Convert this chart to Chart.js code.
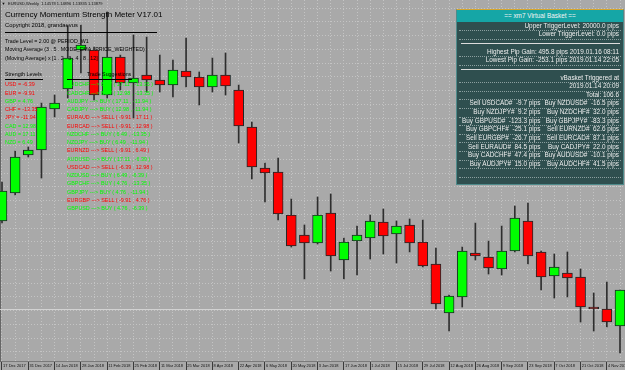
<!DOCTYPE html>
<html>
<head>
<meta charset="utf-8">
<script src="https://cdn.jsdelivr.net/npm/chart.js@4.4.1/dist/chart.umd.min.js"></script>
<style>
  html, body { margin: 0; padding: 0; background: #a9a9a9; }
  #wrap { position: relative; width: 625px; height: 370px; overflow: hidden; font-family: "Liberation Sans", Arial, sans-serif; }
  #wrap canvas { position: absolute; left: 0; top: 0; }
  .txt { position: absolute; white-space: pre; line-height: 1; }
  .hline { position: absolute; height: 0; border-top: 1px solid #000; }
  .dots { position: absolute; height: 0; border-top: 1px dotted rgba(215, 225, 225, 0.55); }
  #basket { position: absolute; left: 456px; top: 9px; width: 168px; height: 176px; box-sizing: border-box;
            background: #2f4f4f; border: 1px solid #4d8a8a; border-top-color: #d6a52c; }
  #basketHead { position: absolute; left: 457px; top: 10px; width: 166px; height: 12px; background: #15a6a6; }
</style>
</head>
<body>
<div id="wrap">
  <canvas id="grafico" width="625" height="370"></canvas>
</div>
<script>
// === Dados (EURUSD semanal) ===
const dates = ["17 Dec 2017", "24 Dec 2017", "31 Dec 2017", "7 Jan 2018", "14 Jan 2018", "21 Jan 2018",
  "28 Jan 2018", "4 Feb 2018", "11 Feb 2018", "18 Feb 2018", "25 Feb 2018", "4 Mar 2018",
  "11 Mar 2018", "18 Mar 2018", "25 Mar 2018", "1 Apr 2018", "8 Apr 2018", "15 Apr 2018",
  "22 Apr 2018", "29 Apr 2018", "6 May 2018", "13 May 2018", "20 May 2018", "27 May 2018",
  "3 Jun 2018", "10 Jun 2018", "17 Jun 2018", "24 Jun 2018", "1 Jul 2018", "8 Jul 2018",
  "15 Jul 2018", "22 Jul 2018", "29 Jul 2018", "5 Aug 2018", "12 Aug 2018", "19 Aug 2018",
  "26 Aug 2018", "2 Sep 2018", "9 Sep 2018", "16 Sep 2018", "23 Sep 2018", "30 Sep 2018",
  "7 Oct 2018", "14 Oct 2018", "21 Oct 2018", "28 Oct 2018", "4 Nov 2018", "11 Nov 2018"];

const openP = [1.1743, 1.1855, 1.2007, 1.2027, 1.2191, 1.2271, 1.2427, 1.2427, 1.2247, 1.2399, 1.2295, 1.2327,
  1.2307, 1.2287, 1.2343, 1.2319, 1.2279, 1.2327, 1.2267, 1.2119, 1.1955, 1.1939, 1.1767, 1.1687,
  1.1655, 1.1775, 1.1587, 1.1663, 1.1675, 1.1739, 1.1691, 1.1727, 1.1659, 1.1571, 1.1375, 1.1439,
  1.1615, 1.1599, 1.1551, 1.1623, 1.1743, 1.1619, 1.1523, 1.1535, 1.1519, 1.1399, 1.1391, 1.1323];
const highP = [1.1899, 1.2023, 1.2039, 1.2215, 1.2247, 1.2523, 1.2527, 1.2439, 1.2579, 1.2407, 1.2487, 1.2479,
  1.2407, 1.2387, 1.2475, 1.2339, 1.2395, 1.2415, 1.2287, 1.2139, 1.1975, 1.1995, 1.1831, 1.1727,
  1.1839, 1.1851, 1.1675, 1.1723, 1.1767, 1.1791, 1.1743, 1.1751, 1.1747, 1.1635, 1.1447, 1.1639,
  1.1735, 1.1663, 1.1723, 1.1803, 1.1815, 1.1623, 1.1611, 1.1619, 1.1551, 1.1455, 1.1499, 1.1467];
const lowP = [1.1735, 1.1847, 1.1999, 1.1915, 1.2159, 1.2235, 1.2335, 1.2227, 1.2235, 1.2267, 1.2155, 1.2259,
  1.2259, 1.2239, 1.2279, 1.2207, 1.2259, 1.2247, 1.2055, 1.1911, 1.1819, 1.1747, 1.1639, 1.1511,
  1.1651, 1.1543, 1.1511, 1.1527, 1.1591, 1.1611, 1.1575, 1.1619, 1.1559, 1.1391, 1.1303, 1.1399,
  1.1587, 1.1531, 1.1527, 1.1619, 1.1571, 1.1467, 1.1435, 1.1439, 1.1339, 1.1303, 1.1319, 1.1215];
const closeP = [1.1863, 1.1999, 1.2027, 1.2199, 1.2215, 1.2395, 1.2447, 1.2247, 1.2399, 1.2295, 1.2315, 1.2307,
  1.2287, 1.2347, 1.2319, 1.2279, 1.2327, 1.2283, 1.2123, 1.1959, 1.1935, 1.1771, 1.1643, 1.1655,
  1.1767, 1.1603, 1.1659, 1.1687, 1.1743, 1.1683, 1.1723, 1.1655, 1.1563, 1.1411, 1.1443, 1.1623,
  1.1603, 1.1555, 1.1623, 1.1755, 1.1603, 1.1519, 1.1559, 1.1515, 1.1399, 1.1391, 1.1339, 1.1467];
const bidPrice = 1.1391;

// === Textos do indicador ===
const strengthNames = ["USD", "EUR", "GBP", "CHF", "JPY", "CAD", "AUD", "NZD"];
const strengthValues = [-6.39, -9.91, 4.76, -13.35, -11.94, 12.98, 17.11, 6.49];
const suggestionPairs = ["AUDCHF", "CADCHF", "AUDJPY", "CADJPY", "EURAUD", "EURCAD", "NZDCHF", "NZDJPY",
  "EURNZD", "AUDUSD", "USDCAD", "NZDUSD", "GBPCHF", "GBPJPY", "EURGBP", "GBPUSD"];
const basketLeft = ["Sell USDCAD#  -9.7 pips", "Buy NZDJPY#  9.2 pips", "Buy GBPUSD#  -123.3 pips",
  "Buy GBPCHF#  -25.1 pips", "Sell EURGBP#  -26.7 pips", "Sell EURAUD#  84.5 pips",
  "Buy CADCHF#  47.4 pips", "Buy AUDJPY#  15.0 pips"];
const basketRight = ["Buy NZDUSD#  -16.5 pips", "Buy NZDCHF#  32.0 pips", "Buy GBPJPY#  -83.3 pips",
  "Sell EURNZD#  62.6 pips", "Sell EURCAD#  87.1 pips", "Buy CADJPY#  22.0 pips",
  "Buy AUDUSD#  -10.1 pips", "Buy AUDCHF#  41.5 pips"];

// === Grafico ===
const bodies = dates.map((d, i) => ({ x: i, y: [openP[i], closeP[i]] }));
const wicks = dates.map((d, i) => ({ x: i, y: [lowP[i], highP[i]] }));
const bodyColors = openP.map((o, i) => closeP[i] >= o ? "#00ff00" : "#ff0000");

const bidLine = {
  id: "bidLine",
  beforeDatasetsDraw(chart) {
    const { ctx, chartArea, scales } = chart;
    const y = Math.round(scales.y.getPixelForValue(bidPrice)) + 0.5;
    ctx.save();
    ctx.strokeStyle = "#d2d2d2";
    ctx.lineWidth = 1;
    ctx.beginPath();
    ctx.moveTo(chartArea.left, y);
    ctx.lineTo(chartArea.right, y);
    ctx.stroke();
    ctx.restore();
  }
};

const ctx = document.getElementById("grafico").getContext("2d");
new Chart(ctx, {
  type: "bar",
  data: {
    datasets: [
      { data: bodies, backgroundColor: bodyColors, borderColor: "#1c2828", borderWidth: 1, borderSkipped: false,
        barThickness: 10, maxBarThickness: 10, grouped: false, order: 0 },
      { data: wicks, backgroundColor: "#2e2e2e", borderWidth: 0,
        barThickness: 1, maxBarThickness: 1, grouped: false, order: 1 }
    ]
  },
  options: {
    responsive: false,
    animation: false,
    events: [],
    layout: { padding: 0 },
    plugins: { legend: { display: false }, tooltip: { enabled: false } },
    scales: {
      x: {
        type: "linear", min: -0.152, max: 47.38, offset: false,
        afterFit: scale => { scale.height = 9; },
        grid: { color: "#c4c4c4", offset: false, tickLength: 9,
          tickColor: c => (c.tick && c.tick.value % 2 === 0) ? "#3a3a3a" : "rgba(0,0,0,0)" },
        border: { display: true, color: "#7a7a7a", dash: [1, 2] },
        ticks: { stepSize: 1, includeBounds: false, autoSkip: false, maxRotation: 0, minRotation: 0,
          align: "start", padding: -8, color: "#111",
          font: { family: "Liberation Sans", size: 4, lineHeight: "7px" },
          callback: v => v % 2 === 0 ? " " + dates[v] : "" }
      },
      y: {
        min: 1.1183, max: 1.2627,
        grid: { color: "#c4c4c4", drawTicks: false },
        border: { display: true, color: "#666", dash: [1, 2] },
        ticks: { display: false, stepSize: 0.0055, includeBounds: false }
      }
    }
  },
  plugins: [bidLine]
});

// === Textos sobrepostos ===
const wrap = document.getElementById("wrap");

function addText(str, x, yc, size, color, align) {
  const el = document.createElement("div");
  el.className = "txt";
  el.textContent = str;
  el.style.fontSize = size + "px";
  el.style.color = color;
  el.style.top = (yc - size * 0.49) + "px";
  if (align === "right") {
    el.style.right = (625 - x) + "px";
  } else if (align === "center") {
    el.style.left = x + "px";
    el.style.transform = "translateX(-50%)";
  } else {
    el.style.left = x + "px";
  }
  wrap.appendChild(el);
}

function addLine(cls, x, y, w, color) {
  const el = document.createElement("div");
  el.className = cls;
  el.style.left = x + "px";
  el.style.top = y + "px";
  el.style.width = w + "px";
  if (color) el.style.borderTopColor = color;
  wrap.appendChild(el);
}

const fmt = v => String(v);
const green = "#00ff00";
const red = "#ff0000";

// cabecalho e titulo
addText("\u25BC", 1.5, 4, 4, "#111");
addText("EURUSD,Weekly  1.14578 1.14896 1.13835 1.13879", 8, 4, 4, "#111");
addText("Currency Momentum Strength Meter V17.01", 5, 14.5, 8, "#000");
addText("Copyright 2018, grandaevus", 5, 25.7, 5.8, "#000");
addLine("hline", 5, 32, 152);
addText("Trade Level = 2.00 @ PERIOD_W1", 5, 41.7, 5.3, "#000");
addText("Moving Average (3 . 5 . MODE_EMA . PRICE_WEIGHTED)", 5, 50, 5.3, "#000");
addText("(Moving Average) x [1 . 2 . 3 . 4 . 8 . 12]", 5, 58.3, 5.3, "#000");

// forca das moedas
addText("Strength Levels", 5, 74.5, 5.3, "#000");
addLine("hline", 5, 79, 38);
strengthNames.forEach((n, i) => {
  const v = strengthValues[i];
  addText(n + " = " + fmt(v), 5, 85 + i * 8.25, 5.4, v > 0 ? green : red);
});

// sugestoes
addText("Trade Suggestions", 87, 74.5, 5.3, "#000");
addLine("hline", 67, 79, 65);
suggestionPairs.forEach((p, i) => {
  const b = strengthValues[strengthNames.indexOf(p.slice(0, 3))];
  const q = strengthValues[strengthNames.indexOf(p.slice(3))];
  const buy = b > q;
  const s = p + " ---> " + (buy ? "BUY" : "SELL") + " ( " + fmt(b) + " , " + fmt(q) + " )";
  addText(s, 67, 85 + i * 8.25, 5.4, buy ? green : red);
});

// === Painel xm7 Virtual Basket ===
const panel = document.createElement("div");
panel.id = "basket";
wrap.appendChild(panel);
const head = document.createElement("div");
head.id = "basketHead";
wrap.appendChild(head);
addText("== xm7 Virtual Basket ==", 540, 16, 6.4, "#f4f4f4", "center");

const rowY = k => 26 + k * 8.625;
const pc = "#eeeeee";
for (let k = 0; k <= 18; k++) {
  if (k === 2 || k === 5) continue;
  addLine("dots", 459, rowY(k) + 4.3, 162);
}
addLine("hline", 461, rowY(2), 159, "#dcdcdc");
addLine("hline", 461, rowY(5), 159, "#dcdcdc");

addText("Upper TriggerLevel: 20000.0 pips", 619, rowY(0), 6.4, pc, "right");
addText("Lower TriggerLevel: 0.0 pips", 619, rowY(1), 6.4, pc, "right");
addText("Highest Pip Gain: 495.8 pips 2019.01.16 08:11", 619, rowY(3), 6.4, pc, "right");
addText("Lowest Pip Gain: -253.1 pips 2019.01.14 22:05", 619, rowY(4), 6.4, pc, "right");
addText("vBasket Triggered at", 619, rowY(6), 6.4, pc, "right");
addText("2019.01.14 20:09", 619, rowY(7), 6.4, pc, "right");
addText("Total: 106.6", 619, rowY(8), 6.4, pc, "right");
basketLeft.forEach((s, i) => {
  addText(s, 540.5, rowY(9 + i), 6.4, pc, "right");
  addText(basketRight[i], 619, rowY(9 + i), 6.4, pc, "right");
});
</script>
</body>
</html>
